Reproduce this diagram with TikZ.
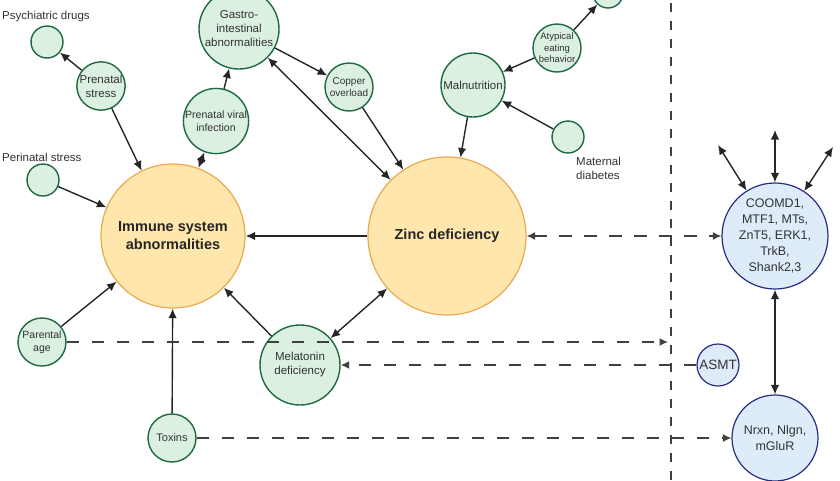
\documentclass[tikz,border=0pt]{standalone}
\usepackage{fontspec}
\setmainfont{Liberation Sans}
\usepackage{tikz}
\usetikzlibrary{arrows.meta}
\usepackage{xcolor}
\definecolor{leafgreen}{RGB}{30, 105, 65}
\definecolor{leaffill}{RGB}{220, 240, 226}
\definecolor{hubedge}{RGB}{232, 170, 80}
\definecolor{hubfill}{RGB}{255, 230, 172}
\definecolor{geneedge}{RGB}{40, 45, 130}
\definecolor{genefill}{RGB}{222, 236, 250}
\definecolor{inktext}{RGB}{50, 50, 50}

\begin{document}
\begin{tikzpicture}[
    x=1pt, y=-1pt,
    factor/.style={circle, draw=leafgreen, fill=leaffill, line width=1.4pt, inner sep=0pt, align=center, text=inktext, font=\fontsize{11.5}{14}\selectfont},
    hub/.style={circle, draw=hubedge, fill=hubfill, line width=1.2pt, inner sep=0pt, align=center, text=black!85, font=\fontsize{14.5}{18}\selectfont\bfseries},
    gene/.style={circle, draw=geneedge, fill=genefill, line width=1.2pt, inner sep=0pt, align=center, text=inktext, font=\fontsize{12.5}{16}\selectfont},
    caption/.style={text=inktext, font=\fontsize{11.5}{14}\selectfont, align=left, inner sep=0pt, anchor=west},
    link/.style={-{Latex[length=9.5pt,width=8.5pt]}, line width=1.4pt, black!85},
    duplex/.style={{Latex[length=9.5pt,width=8.5pt]}-{Latex[length=9.5pt,width=8.5pt]}, line width=1.4pt, black!85},
    hint/.style={dash pattern=on 12.5pt off 12.5pt, line width=1.4pt, black!75},
    hinttip/.style={-{Latex[length=8.5pt,width=8pt]}}
]
    \useasboundingbox (0,0) rectangle (840,480);

    % Left-hand risk factors
    \node[factor, minimum size=32pt] (psych) at (47,42) {};
    \node[caption] at (2,17) {Psychiatric drugs};
    \node[factor, minimum size=48pt] (prestress) at (101,86) {Prenatal\\stress};
    \node[factor, minimum size=32pt] (peri) at (43,180) {};
    \node[caption] at (2,157) {Perinatal stress};
    \node[factor, minimum size=64pt, font=\fontsize{10.6}{13}\selectfont] (viral) at (216,121) {Prenatal viral\\infection};
    \node[factor, minimum size=80pt] (gastro) at (239,29) {Gastro-\\intestinal\\abnormalities};
    \node[factor, minimum size=48pt, font=\fontsize{10}{12.5}\selectfont] (copper) at (349,87) {Copper\\overload};
    \node[factor, minimum size=48pt, font=\fontsize{10.5}{13}\selectfont] (parent) at (42,342) {Parental\\age};
    \node[factor, minimum size=48pt, font=\fontsize{11}{13}\selectfont] (toxins) at (172,438) {Toxins};
    \node[factor, minimum size=80pt] (melat) at (300,365) {Melatonin\\deficiency};

    % Nutrition branch
    \node[factor, minimum size=64pt] (maln) at (473,85) {Malnutrition};
    \node[factor, minimum size=48pt, font=\fontsize{9.5}{11.5}\selectfont] (atyp) at (557,48) {Atypical\\eating\\behavior};
    \node[factor, minimum size=30pt] (upper) at (608,-7) {};
    \node[factor, minimum size=32pt] (matdia) at (568,137) {};
    \node[caption] at (576,168) {Maternal\\diabetes};

    % Two main outcomes
    \node[hub, minimum size=144pt] (immune) at (173,236) {Immune system\\abnormalities};
    \node[hub, minimum size=158pt] (zinc) at (447,236) {Zinc deficiency};

    % Genes on the right
    \node[gene, minimum size=106pt] (coomd) at (775,236) {COOMD1,\\MTF1, MTs,\\ZnT5, ERK1,\\TrkB,\\Shank2,3};
    \node[gene, minimum size=86pt] (nrxn) at (775,438) {Nrxn, Nlgn,\\mGluR};
    \node[gene, minimum size=42pt, font=\fontsize{13.5}{16}\selectfont] (asmt) at (718,365) {ASMT};

    % Dashed divider
    \coordinate (fencetop) at (671,0);
    \coordinate (fencebot) at (671,480);
    \draw[hint, dash pattern=on 9pt off 9pt, dash phase=-3pt] (fencetop) -- (fencebot);

    % Solid links
    \draw[link] (prestress) -- (psych);
    \draw[link] (prestress) -- (immune);
    \draw[link] (peri) -- (immune);
    \draw[duplex] (viral) -- (immune);
    \draw[link] (viral) -- (gastro);
    \draw[link] (gastro) -- (copper);
    \draw[duplex] (gastro) -- (zinc);
    \draw[link] (copper) -- (zinc);
    \draw[link] (zinc) -- (immune);
    \draw[link] (maln) -- (zinc);
    \draw[link] (atyp) -- (maln);
    \draw[link] (atyp) -- (upper);
    \draw[link] (matdia) -- (maln);
    \draw[link] (parent) -- (immune);
    \draw[link] (toxins) -- (immune);
    \draw[link] (melat) -- (immune);
    \draw[duplex] (melat) -- (zinc);
    \draw[duplex] (coomd) -- (nrxn);

    % Free arrows above the gene node
    \coordinate (outleft) at (718,145);
    \coordinate (outmid) at (775,130);
    \coordinate (outright) at (833,147);
    \draw[duplex] (outleft) -- (coomd);
    \draw[duplex] (outmid) -- (coomd);
    \draw[duplex] (outright) -- (coomd);

    % Dashed links
    \coordinate (fencehit) at (668,342);
    \draw[hint, hinttip] (parent.east) -- (fencehit);
    \draw[hint, hinttip] (asmt) -- (melat);
    \draw[hint, hinttip] (toxins) -- (nrxn);
    \draw[hint, {Latex[length=8.5pt,width=8pt]}-{Latex[length=8.5pt,width=8pt]}] (zinc) -- (coomd);

\end{tikzpicture}
\end{document}
